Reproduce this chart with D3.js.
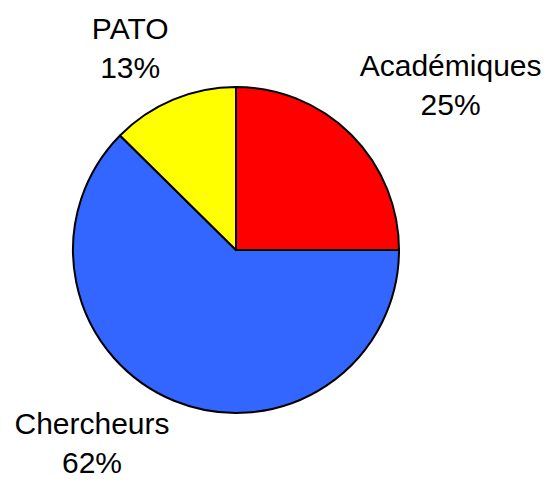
<!doctype html>
<html lang="en">
<head>
    <title>Répartition</title>
    <script src="https://d3js.org/d3.v7.min.js"></script>
    <style>
        body { margin: 0; background: white; }
        text { font-family: "Liberation Sans", Arial, sans-serif; }
    </style>
</head>
<body>
    <script>
       let width = 549, height = 483;

       // slices in drawing order, clockwise from 12 o'clock
       let categories = ['Académiques', 'Chercheurs', 'PATO'];
       let values = [25, 62.4, 12.6];
       let colors = ['#ff0000', '#3366ff', '#ffff00'];

       let cx = 236, cy = 250, radius = 163;
       let fontSize = 30, lineGap = 39, pad = 5;

       let data = categories.map(function (c, i) {
           return { name: c, value: values[i], color: colors[i] };
       });
       let total = d3.sum(values);

       let svg = d3.select('body').append('svg')
                   .attr('width', width).attr('height', height);

       let pie = d3.pie().sort(null).value(function (d) { return d.value; });
       let arc = d3.arc().innerRadius(0).outerRadius(radius);
       let arcs = pie(data);

       let g = svg.append('g').attr('transform', `translate(${cx}, ${cy})`);

       g.selectAll('path').data(arcs).enter().append('path')
        .attr('d', arc)
        .style('fill', function (d) { return d.data.color; })
        .style('stroke', 'black')
        .style('stroke-width', 2)
        .style('stroke-linejoin', 'round');

       // labels: outside end, box corner touching a circle slightly bigger than the pie
       let labels = g.selectAll('g.label').data(arcs).enter().append('g')
                     .attr('class', 'label');

       labels.each(function (d) {
           let lab = d3.select(this);
           let pct = Math.round(d.data.value / total * 100) + '%';
           let t1 = lab.append('text').attr('text-anchor', 'middle')
                       .style('font-size', fontSize + 'px').text(d.data.name);
           let t2 = lab.append('text').attr('text-anchor', 'middle')
                       .style('font-size', fontSize + 'px').text(pct);
           let w = Math.max(t1.node().getComputedTextLength(), t2.node().getComputedTextLength());
           let h = lineGap + fontSize + 2 * pad;
           let a = (d.startAngle + d.endAngle) / 2;
           let r = radius + 12;
           let ax = Math.sin(a) * r, ay = -Math.cos(a) * r;
           let mx = ax + Math.sign(Math.sin(a)) * w / 2;
           let my = ay - Math.sign(Math.cos(a)) * h / 2;
           let top = my - h / 2 + pad;
           // keep the text inside the picture
           let maxTop = height - cy - 4 - fontSize - lineGap;
           top = Math.min(top, maxTop);
           t1.attr('x', mx).attr('y', top + fontSize * 0.8);
           t2.attr('x', mx).attr('y', top + fontSize * 0.8 + lineGap);
       });
    </script>
</body>
</html>
